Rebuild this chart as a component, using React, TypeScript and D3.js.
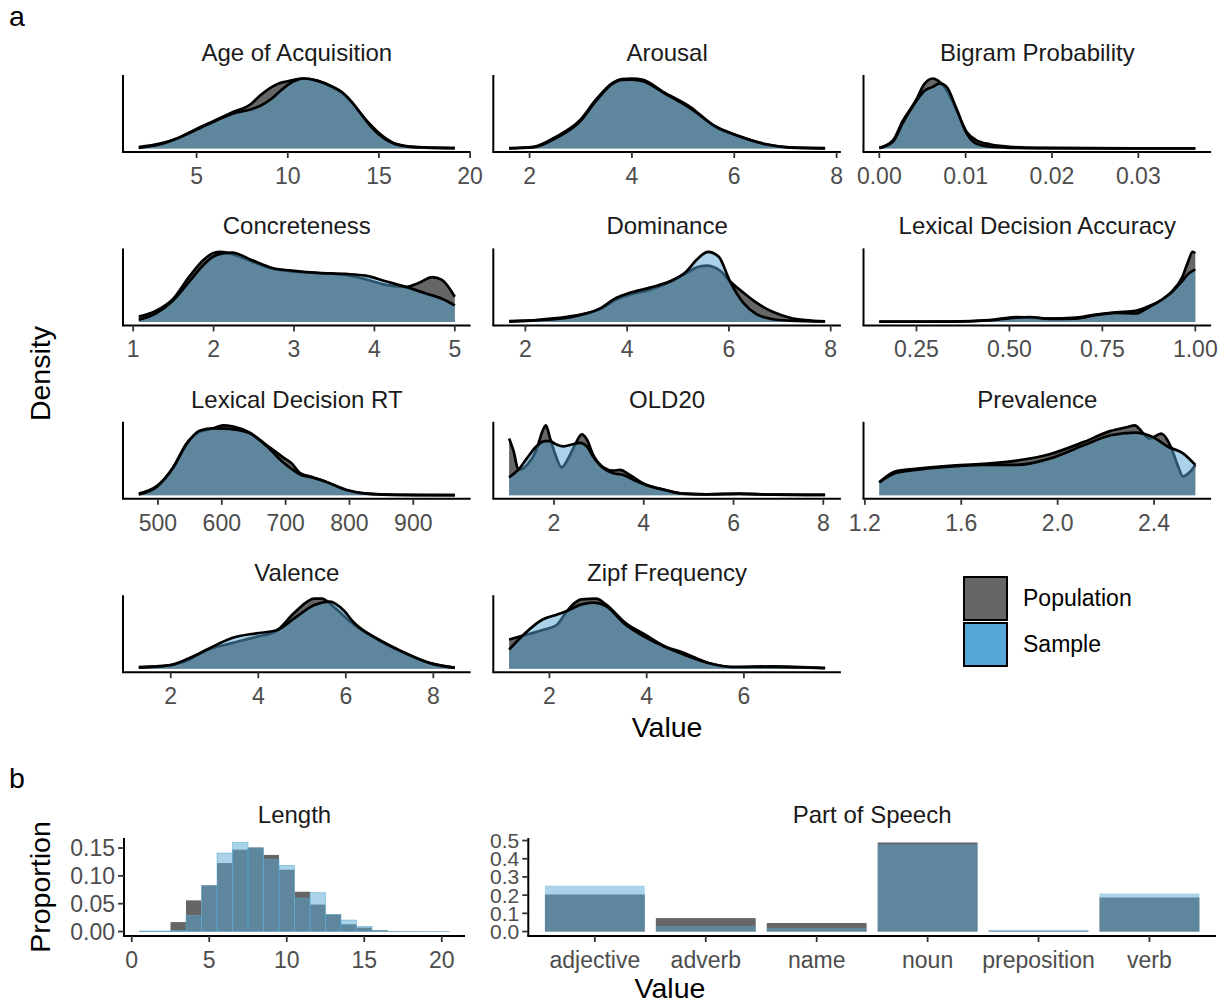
import React from "react";
import * as d3 from "d3";

type Pt = [number, number];

// ---------- Panel a: density curves (x value, relative density) ----------
const aoaPop: Pt[] = [[1.83,0.02],[3,0.07],[4,0.15],[5,0.28],[6,0.4],[7,0.52],[8,0.64],[8.5,0.76],[9,0.86],[9.5,0.93],[10,0.96],[10.8,1.0],[11.6,0.97],[12.4,0.88],[13,0.79],[13.5,0.66],[14,0.5],[14.5,0.35],[15,0.22],[15.8,0.08],[16.5,0.035],[17.5,0.015],[19.16,0.006]];
const aoaSample: Pt[] = [[1.83,0.01],[3,0.06],[4,0.15],[5,0.27],[6,0.39],[7,0.5],[8,0.56],[8.5,0.61],[9,0.69],[9.5,0.8],[10,0.91],[10.5,0.98],[10.9,1.0],[11.6,0.97],[12.4,0.89],[13,0.8],[13.5,0.67],[14,0.5],[14.5,0.33],[15,0.2],[15.8,0.07],[16.5,0.03],[17.5,0.012],[19.16,0.005]];

const arousalPop: Pt[] = [[1.6,0.005],[2.07,0.025],[2.52,0.17],[2.98,0.4],[3.3,0.7],[3.63,0.94],[3.8,0.99],[4.0,1.0],[4.22,0.98],[4.61,0.81],[5.13,0.6],[5.65,0.3],[6.04,0.19],[6.63,0.055],[7.09,0.015],[7.775,0.004]];
const arousalSample: Pt[] = [[1.6,0.003],[2.07,0.015],[2.52,0.15],[2.98,0.38],[3.3,0.68],[3.63,0.93],[3.8,0.98],[4.0,0.985],[4.22,0.96],[4.61,0.8],[5.13,0.58],[5.65,0.31],[6.04,0.19],[6.63,0.06],[7.09,0.012],[7.775,0.003]];

const bigramPop: Pt[] = [[0,0.01],[0.0016,0.12],[0.0027,0.39],[0.0043,0.7],[0.0052,0.92],[0.0062,1.0],[0.0068,0.97],[0.0076,0.87],[0.0089,0.56],[0.0101,0.24],[0.0112,0.12],[0.0128,0.06],[0.0151,0.025],[0.0182,0.01],[0.0236,0.005],[0.0366,0.002]];
const bigramSample: Pt[] = [[0,0.005],[0.0016,0.1],[0.0027,0.36],[0.0043,0.68],[0.0052,0.82],[0.0062,0.88],[0.007,0.93],[0.0078,0.88],[0.0089,0.58],[0.0101,0.22],[0.0112,0.07],[0.0128,0.025],[0.0151,0.01],[0.0182,0.005],[0.0366,0.001]];

const concPop: Pt[] = [[1.07,0.075],[1.28,0.155],[1.49,0.32],[1.7,0.65],[1.87,0.88],[1.99,0.98],[2.09,1.0],[2.28,0.95],[2.48,0.86],[2.73,0.76],[3.0,0.72],[3.31,0.695],[3.64,0.67],[3.89,0.61],[4.14,0.53],[4.39,0.5],[4.55,0.555],[4.72,0.64],[4.84,0.6],[5.0,0.36]];
const concSample: Pt[] = [[1.07,0.03],[1.28,0.12],[1.49,0.3],[1.7,0.58],[1.87,0.81],[1.99,0.93],[2.11,0.98],[2.23,0.99],[2.48,0.88],[2.73,0.77],[3.0,0.73],[3.31,0.7],[3.64,0.685],[3.89,0.66],[4.14,0.58],[4.39,0.5],[4.63,0.41],[4.84,0.33],[5.0,0.235]];

const domPop: Pt[] = [[1.68,0.01],[2.28,0.03],[2.94,0.085],[3.46,0.18],[3.79,0.32],[4.05,0.39],[4.45,0.46],[4.84,0.57],[5.17,0.7],[5.37,0.78],[5.56,0.805],[5.83,0.73],[6.02,0.58],[6.28,0.42],[6.54,0.275],[6.87,0.14],[7.2,0.06],[7.5,0.025],[7.89,0.008]];
const domSample: Pt[] = [[1.68,0.005],[2.28,0.025],[2.94,0.075],[3.46,0.19],[3.79,0.345],[4.05,0.415],[4.45,0.49],[4.84,0.58],[5.17,0.725],[5.37,0.89],[5.59,1.0],[5.8,0.93],[6.02,0.58],[6.28,0.275],[6.54,0.11],[6.87,0.038],[7.2,0.018],[7.89,0.006]];

const ldaPop: Pt[] = [[0.15,0.003],[0.34,0.005],[0.446,0.024],[0.518,0.07],[0.554,0.062],[0.607,0.048],[0.679,0.062],[0.732,0.105],[0.786,0.138],[0.839,0.157],[0.875,0.224],[0.911,0.32],[0.938,0.44],[0.964,0.63],[0.98,0.85],[0.993,1.0],[1.0,0.98]];
const ldaSample: Pt[] = [[0.15,0.002],[0.34,0.004],[0.446,0.02],[0.518,0.062],[0.554,0.07],[0.607,0.043],[0.679,0.048],[0.732,0.095],[0.786,0.13],[0.839,0.12],[0.875,0.21],[0.911,0.32],[0.938,0.43],[0.964,0.58],[0.98,0.68],[1.0,0.75]];

const rtPop: Pt[] = [[470,0.024],[498,0.13],[524,0.4],[545,0.74],[566,0.905],[587,0.952],[602,0.995],[618,0.976],[644,0.89],[670,0.714],[696,0.54],[710,0.45],[722,0.32],[743,0.255],[764,0.19],[795,0.071],[827,0.024],[879,0.005],[965,0.002]];
const rtSample: Pt[] = [[470,0.014],[498,0.12],[524,0.395],[545,0.73],[566,0.92],[587,0.952],[602,0.948],[618,0.938],[644,0.88],[670,0.7],[696,0.47],[710,0.37],[722,0.3],[743,0.25],[764,0.19],[795,0.08],[827,0.024],[879,0.006],[965,0.002]];

const oldPop: Pt[] = [[1.0,0.81],[1.1,0.63],[1.21,0.36],[1.4,0.435],[1.61,0.652],[1.76,0.942],[1.82,1.0],[1.91,0.82],[2.02,0.6],[2.17,0.4],[2.32,0.53],[2.47,0.725],[2.62,0.87],[2.73,0.8],[2.87,0.58],[3.1,0.4],[3.32,0.353],[3.47,0.362],[3.69,0.29],[3.99,0.17],[4.43,0.082],[4.87,0.024],[5.39,0.0145],[6.13,0.024],[6.87,0.01],[8.04,0.005]];
const oldSample: Pt[] = [[1.0,0.256],[1.21,0.37],[1.4,0.53],[1.61,0.7],[1.8,0.773],[1.91,0.773],[2.06,0.725],[2.21,0.7],[2.4,0.725],[2.58,0.75],[2.73,0.7],[2.87,0.555],[3.1,0.386],[3.32,0.314],[3.54,0.29],[3.76,0.227],[4.06,0.145],[4.5,0.072],[4.87,0.024],[5.39,0.0145],[6.13,0.019],[6.87,0.01],[8.04,0.005]];

const prevPop: Pt[] = [[1.26,0.184],[1.29,0.27],[1.325,0.34],[1.41,0.377],[1.55,0.42],[1.69,0.448],[1.83,0.495],[1.97,0.59],[2.11,0.764],[2.22,0.92],[2.29,0.976],[2.32,1.0],[2.35,0.906],[2.38,0.81],[2.43,0.88],[2.47,0.69],[2.5,0.41],[2.52,0.27],[2.55,0.34],[2.571,0.434]];
const prevSample: Pt[] = [[1.26,0.184],[1.325,0.316],[1.41,0.363],[1.55,0.41],[1.69,0.434],[1.83,0.434],[1.97,0.528],[2.11,0.717],[2.22,0.858],[2.32,0.896],[2.39,0.84],[2.46,0.69],[2.52,0.6],[2.571,0.434]];

const valPop: Pt[] = [[1.27,0.024],[1.95,0.048],[2.39,0.12],[2.84,0.266],[3.4,0.362],[3.95,0.45],[4.4,0.53],[4.84,0.8],[5.28,0.99],[5.45,0.99],[5.73,0.87],[6.17,0.628],[6.73,0.41],[7.28,0.24],[7.95,0.072],[8.49,0.014]];
const valSample: Pt[] = [[1.27,0.014],[1.95,0.045],[2.39,0.14],[2.84,0.275],[3.4,0.435],[3.95,0.5],[4.4,0.54],[4.84,0.72],[5.28,0.9],[5.63,0.95],[5.96,0.82],[6.17,0.66],[6.73,0.42],[7.28,0.245],[7.95,0.075],[8.49,0.012]];

const zipfPop: Pt[] = [[1.17,0.414],[1.46,0.47],[1.86,0.55],[2.16,0.629],[2.36,0.819],[2.66,0.986],[2.96,0.995],[3.16,0.914],[3.56,0.652],[3.96,0.486],[4.37,0.319],[4.77,0.224],[5.27,0.081],[5.77,0.024],[6.57,0.033],[7.67,0.01]];
const zipfSample: Pt[] = [[1.17,0.271],[1.46,0.48],[1.86,0.7],[2.16,0.771],[2.36,0.819],[2.66,0.914],[2.91,0.938],[3.16,0.89],[3.56,0.629],[3.96,0.452],[4.37,0.31],[4.77,0.2],[5.27,0.081],[5.77,0.024],[6.57,0.024],[7.67,0.008]];

const densityTitles = ["Age of Acquisition","Arousal","Bigram Probability","Concreteness","Dominance","Lexical Decision Accuracy","Lexical Decision RT","OLD20","Prevalence","Valence","Zipf Frequency"];
const densityPops: Pt[][] = [aoaPop, arousalPop, bigramPop, concPop, domPop, ldaPop, rtPop, oldPop, prevPop, valPop, zipfPop];
const densitySamples: Pt[][] = [aoaSample, arousalSample, bigramSample, concSample, domSample, ldaSample, rtSample, oldSample, prevSample, valSample, zipfSample];
const densityTickValues: number[][] = [[5,10,15,20],[2,4,6,8],[0,0.01,0.02,0.03],[1,2,3,4,5],[2,4,6,8],[0.25,0.5,0.75,1],[500,600,700,800,900],[2,4,6,8],[1.2,1.6,2.0,2.4],[2,4,6,8],[2,4,6]];
const densityTickLabels: string[][] = [["5","10","15","20"],["2","4","6","8"],["0.00","0.01","0.02","0.03"],["1","2","3","4","5"],["2","4","6","8"],["0.25","0.50","0.75","1.00"],["500","600","700","800","900"],["2","4","6","8"],["1.2","1.6","2.0","2.4"],["2","4","6","8"],["2","4","6"]];

// ---------- Panel b ----------
const lengthBins = [1,2,3,4,5,6,7,8,9,10,11,12,13,14,15,16,17,18,19,20];
const lengthPop = [0.001,0.001,0.017,0.056,0.083,0.123,0.147,0.151,0.1376,0.111,0.0715,0.0484,0.0307,0.013,0.007,0.0023,0.0008,0.0005,0.0004,0.0004];
const lengthSample = [0.001,0.001,0.002,0.029,0.082,0.141,0.16,0.15,0.13,0.119,0.06,0.0697,0.031,0.0206,0.0094,0.001,0.0005,0.0005,0.0004,0.0004];
const lengthXTicks = [0,5,10,15,20];
const lengthYTicks = [0,0.05,0.1,0.15];
const lengthYLabels = ["0.00","0.05","0.10","0.15"];

const posCats = ["adjective","adverb","name","noun","preposition","verb"];
const posPop = [0.2035,0.074,0.047,0.4895,0.004,0.187];
const posSample = [0.252,0.031,0.02,0.48,0.009,0.209];
const posYTicks = [0,0.1,0.2,0.3,0.4,0.5];
const posYLabels = ["0.0","0.1","0.2","0.3","0.4","0.5"];

const legendLabels = ["Population","Sample"];

// ---------- styling ----------
const FONT = "Liberation Sans, Arial, Helvetica, sans-serif";
const POP = "#666666";
const SAMPLE = "#56A8D6";
const SAMPLE_ALPHA = 0.5;
const PW = 347.6;
const PH = 77;
const colX = [123, 493.3, 863.5];
const rowY = [75, 248.4, 421.8, 595.2];
const TICK_FS = 23;
const TITLE_FS = 24;
const AXIS_FS = 28.5;
const CURVE_W = 2.7;
const AXIS_W = 2;

function DensityPanel({ idx }: { idx: number }) {
  const pop = densityPops[idx];
  const sample = densitySamples[idx];
  const x0 = colX[idx % 3];
  const y0 = rowY[Math.floor(idx / 3)];
  const all = pop.concat(sample);
  const ext = d3.extent(all, (d) => d[0]) as [number, number];
  const pad = (ext[1] - ext[0]) * 0.05;
  const x = d3.scaleLinear().domain([ext[0] - pad, ext[1] + pad]).range([x0, x0 + PW]);
  const ymax = d3.max(all, (d) => d[1]) as number;
  const y = d3.scaleLinear().domain([-0.05 * ymax, 1.05 * ymax]).range([y0 + PH, y0]);
  const area = d3.area<Pt>().x((d) => x(d[0])).y0(y(0)).y1((d) => y(d[1])).curve(d3.curveMonotoneX);
  const line = d3.line<Pt>().x((d) => x(d[0])).y((d) => y(d[1])).curve(d3.curveMonotoneX);
  const ticks = densityTickValues[idx];
  const labels = densityTickLabels[idx];
  return (
    <g>
      <text x={x0 + PW / 2} y={y0 - 14} textAnchor="middle" fontSize={TITLE_FS} fill="#1A1A1A">{densityTitles[idx]}</text>
      <path d={area(pop) || ""} fill={POP} />
      <path d={line(pop) || ""} fill="none" stroke="#000" strokeWidth={CURVE_W} strokeLinejoin="round" />
      <path d={area(sample) || ""} fill={SAMPLE} fillOpacity={SAMPLE_ALPHA} />
      <path d={line(sample) || ""} fill="none" stroke="#000" strokeWidth={CURVE_W} strokeLinejoin="round" />
      <line x1={x0 - 1} x2={x0 + PW} y1={y0 + PH} y2={y0 + PH} stroke="#000" strokeWidth={AXIS_W} />
      <line x1={x0} x2={x0} y1={y0} y2={y0 + PH} stroke="#000" strokeWidth={AXIS_W} />
      {ticks.map((t, i) => (
        <g key={i}>
          <line x1={x(t)} x2={x(t)} y1={y0 + PH} y2={y0 + PH + 6} stroke="#333" strokeWidth={1.8} />
          <text x={x(t)} y={y0 + PH + 32} textAnchor="middle" fontSize={TICK_FS} fill="#4D4D4D">{labels[i]}</text>
        </g>
      ))}
    </g>
  );
}

const BY0 = 838;
const BH = 98;

function LengthPanel() {
  const x0 = 124, w = 341;
  const x = d3.scaleLinear().domain([-0.5, 21.5]).range([x0, x0 + w]);
  const ymax = Math.max(d3.max(lengthPop) as number, d3.max(lengthSample) as number);
  const y = d3.scaleLinear().domain([-0.05 * ymax, 1.05 * ymax]).range([BY0 + BH, BY0]);
  return (
    <g>
      <text x={x0 + w / 2} y={BY0 - 15} textAnchor="middle" fontSize={TITLE_FS} fill="#1A1A1A">Length</text>
      {lengthBins.map((b, i) => (
        <rect key={"p" + i} x={x(b - 0.5)} width={x(b + 0.5) - x(b - 0.5)} y={y(lengthPop[i])} height={y(0) - y(lengthPop[i])} fill={POP} />
      ))}
      {lengthBins.map((b, i) => (
        <rect key={"s" + i} x={x(b - 0.5)} width={x(b + 0.5) - x(b - 0.5)} y={y(lengthSample[i])} height={y(0) - y(lengthSample[i])} fill={SAMPLE} fillOpacity={SAMPLE_ALPHA} stroke={SAMPLE} strokeWidth={0.5} />
      ))}
      <line x1={x0 - 1} x2={x0 + w} y1={BY0 + BH} y2={BY0 + BH} stroke="#000" strokeWidth={AXIS_W} />
      <line x1={x0} x2={x0} y1={BY0} y2={BY0 + BH} stroke="#000" strokeWidth={AXIS_W} />
      {lengthXTicks.map((t, i) => (
        <g key={i}>
          <line x1={x(t)} x2={x(t)} y1={BY0 + BH} y2={BY0 + BH + 6} stroke="#333" strokeWidth={1.8} />
          <text x={x(t)} y={BY0 + BH + 32} textAnchor="middle" fontSize={TICK_FS} fill="#4D4D4D">{String(t)}</text>
        </g>
      ))}
      {lengthYTicks.map((t, i) => (
        <g key={i}>
          <line x1={x0 - 6} x2={x0} y1={y(t)} y2={y(t)} stroke="#333" strokeWidth={1.8} />
          <text x={x0 - 9} y={y(t) + 8} textAnchor="end" fontSize={TICK_FS} fill="#4D4D4D">{lengthYLabels[i]}</text>
        </g>
      ))}
    </g>
  );
}

function PosPanel() {
  const x0 = 528.3, w = 687.7;
  const x = d3.scalePoint<string>().domain(posCats).range([x0, x0 + w]).padding(0.6);
  const step = x.step();
  const bw = step * 0.9;
  const ymax = Math.max(d3.max(posPop) as number, d3.max(posSample) as number);
  const y = d3.scaleLinear().domain([-0.05 * ymax, 1.05 * ymax]).range([BY0 + BH, BY0]);
  return (
    <g>
      <text x={x0 + w / 2} y={BY0 - 15} textAnchor="middle" fontSize={TITLE_FS} fill="#1A1A1A">Part of Speech</text>
      {posCats.map((c, i) => (
        <rect key={"p" + i} x={(x(c) as number) - bw / 2} width={bw} y={y(posPop[i])} height={y(0) - y(posPop[i])} fill={POP} />
      ))}
      {posCats.map((c, i) => (
        <rect key={"s" + i} x={(x(c) as number) - bw / 2} width={bw} y={y(posSample[i])} height={y(0) - y(posSample[i])} fill={SAMPLE} fillOpacity={SAMPLE_ALPHA} />
      ))}
      <line x1={x0 - 1} x2={x0 + w} y1={BY0 + BH} y2={BY0 + BH} stroke="#000" strokeWidth={AXIS_W} />
      <line x1={x0} x2={x0} y1={BY0} y2={BY0 + BH} stroke="#000" strokeWidth={AXIS_W} />
      {posCats.map((c, i) => (
        <g key={i}>
          <line x1={x(c)} x2={x(c)} y1={BY0 + BH} y2={BY0 + BH + 6} stroke="#333" strokeWidth={1.8} />
          <text x={x(c)} y={BY0 + BH + 32} textAnchor="middle" fontSize={TICK_FS} fill="#4D4D4D">{c}</text>
        </g>
      ))}
      {posYTicks.map((t, i) => (
        <g key={i}>
          <line x1={x0 - 6} x2={x0} y1={y(t)} y2={y(t)} stroke="#333" strokeWidth={1.8} />
          <text x={x0 - 9} y={y(t) + 7.5} textAnchor="end" fontSize={21} fill="#4D4D4D">{posYLabels[i]}</text>
        </g>
      ))}
    </g>
  );
}

export default function App() {
  const legendColors = [POP, SAMPLE];
  return (
    <div style={{ position: "absolute", left: 0, top: 0 }}>
      <svg width={1228} height={1003} style={{ display: "block", background: "#fff" }} fontFamily={FONT}>
        <rect x={0} y={0} width={1228} height={1003} fill="#fff" />
        <text x={9} y={26} fontSize={AXIS_FS} fill="#000">a</text>
        <text x={9} y={788} fontSize={AXIS_FS} fill="#000">b</text>
        {densityTitles.map((_, i) => <DensityPanel key={i} idx={i} />)}
        <text transform={`translate(50,${(rowY[0] + rowY[3] + PH) / 2}) rotate(-90)`} textAnchor="middle" fontSize={AXIS_FS} fill="#000">Density</text>
        <text x={(colX[0] + colX[2] + PW) / 2} y={737} textAnchor="middle" fontSize={AXIS_FS} fill="#000">Value</text>
        {legendLabels.map((l, i) => (
          <g key={l}>
            <rect x={964} y={577 + i * 46} width={43} height={43} fill={legendColors[i]} stroke="#000" strokeWidth={2} />
            <text x={1023} y={598 + i * 46 + 8} fontSize={TICK_FS} fill="#000">{l}</text>
          </g>
        ))}
        <LengthPanel />
        <PosPanel />
        <text transform={`translate(50,${BY0 + BH / 2}) rotate(-90)`} textAnchor="middle" fontSize={AXIS_FS} fill="#000">Proportion</text>
        <text x={670} y={998} textAnchor="middle" fontSize={AXIS_FS} fill="#000">Value</text>
      </svg>
    </div>
  );
}
